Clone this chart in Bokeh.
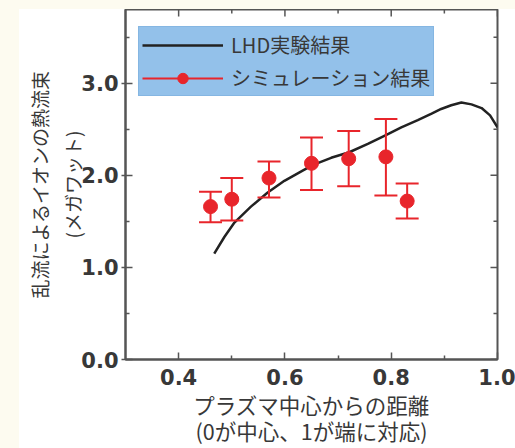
from bokeh.plotting import figure
from bokeh.models import (ColumnDataSource, FixedTicker, LinearAxis, Legend,
                          LegendItem, Range1d, Spacer)
from bokeh.layouts import row, column
from bokeh.embed import file_html
from bokeh.resources import INLINE

# ---------------- data ----------------
curve_x = [0.467, 0.486, 0.504, 0.536, 0.567, 0.599, 0.630, 0.652, 0.687, 0.721,
           0.756, 0.791, 0.819, 0.850, 0.876, 0.894, 0.913, 0.932, 0.951, 0.970,
           0.986, 1.0]
curve_y = [1.15, 1.33, 1.48, 1.66, 1.81, 1.94, 2.04, 2.11, 2.19, 2.25,
           2.34, 2.44, 2.52, 2.60, 2.67, 2.72, 2.76, 2.79, 2.77, 2.73,
           2.65, 2.52]

sim_x = [0.46, 0.50, 0.57, 0.65, 0.72, 0.79, 0.83]
sim_y = [1.66, 1.74, 1.97, 2.13, 2.18, 2.20, 1.72]
sim_upper = [1.82, 1.97, 2.15, 2.41, 2.48, 2.61, 1.91]
sim_lower = [1.49, 1.51, 1.76, 1.84, 1.88, 1.78, 1.53]

x_min, x_max = 0.3, 1.0
y_min, y_max = 0.0, 3.8
x_ticks = [0.4, 0.6, 0.8, 1.0]
x_tick_labels = ["0.4", "0.6", "0.8", "1.0"]
x_minor = [0.5, 0.7, 0.9]
y_ticks = [0.0, 1.0, 2.0, 3.0]
y_tick_labels = ["0.0", "1.0", "2.0", "3.0"]
y_minor = [0.5, 1.5, 2.5, 3.5]

line_label = "LHD実験結果"
sim_label = "シミュレーション結果"
x_title_1 = "プラズマ中心からの距離"
x_title_2 = "(0が中心、1が端に対応)"
y_title_1 = "乱流によるイオンの熱流束"
y_title_2 = "(メガワット)"

# ---------------- styles ----------------
RED = "#e8252b"
FRAME = "#555555"
TXT = "#383838"
CREAM = "#fdfbf0"
JP = "Noto Sans CJK JP"
NUM = "DejaVu Sans"
FRAME_W, FRAME_H = 372, 350
MAJ, MIN = 7, 4

p = figure(width=496, height=439, output_backend="svg", toolbar_location=None,
           x_range=Range1d(x_min, x_max), y_range=Range1d(y_min, y_max),
           min_border_left=106, min_border_right=18, min_border_top=0,
           min_border_bottom=89, x_axis_type=None, y_axis_type=None)
p.background_fill_color = "white"
p.border_fill_color = "white"
p.outline_line_color = FRAME
p.outline_line_width = 2
p.xgrid.visible = False
p.ygrid.visible = False

xt = FixedTicker(ticks=x_ticks, minor_ticks=x_minor)
yt = FixedTicker(ticks=y_ticks, minor_ticks=y_minor)

def style_axis(ax):
    ax.axis_line_color = FRAME
    ax.axis_line_width = 2
    ax.major_tick_line_color = FRAME
    ax.minor_tick_line_color = FRAME
    ax.major_tick_line_width = 1.5
    ax.minor_tick_line_width = 1.5
    ax.major_tick_in = MAJ
    ax.major_tick_out = 0
    ax.minor_tick_in = MIN
    ax.minor_tick_out = 0
    ax.major_label_text_font = NUM
    ax.major_label_text_font_style = "bold"
    ax.major_label_text_font_size = "21px"
    ax.major_label_text_color = TXT

def style_label(ax, size):
    ax.axis_label_text_font = JP
    ax.axis_label_text_font_size = size
    ax.axis_label_text_font_style = "normal"
    ax.axis_label_text_color = TXT

def label_only_axis(title, size, standoff):
    ax = LinearAxis(ticker=FixedTicker(ticks=[]), axis_line_color=None,
                    major_tick_line_color=None, minor_tick_line_color=None,
                    major_tick_out=0, major_tick_in=0, minor_tick_out=0,
                    minor_tick_in=0, major_label_standoff=0)
    ax.axis_label = title
    style_label(ax, size)
    ax.axis_label_standoff = standoff
    return ax

xb = LinearAxis(ticker=xt,
                major_label_overrides={t: s for t, s in zip(x_ticks, x_tick_labels)})
style_axis(xb)
xb.major_label_standoff = 9
xb.axis_label = x_title_1
style_label(xb, "21.5px")
xb.axis_label_standoff = 1
p.add_layout(xb, "below")
p.add_layout(label_only_axis(x_title_2, "21.5px", -8), "below")

yl = LinearAxis(ticker=yt,
                major_label_overrides={t: s for t, s in zip(y_ticks, y_tick_labels)})
style_axis(yl)
yl.major_tick_out = 4
yl.major_label_standoff = 3
yl.axis_label = y_title_2
style_label(yl, "19px")
yl.axis_label_standoff = -8
p.add_layout(yl, "left")
p.add_layout(label_only_axis(y_title_1, "19px", 4), "left")

# inward ticks on the top and right edges of the frame
xpx = (x_max - x_min) / FRAME_W
ypx = (y_max - y_min) / FRAME_H
tick_kw = dict(line_color=FRAME, line_width=1.5)
p.segment(x0=x_ticks, y0=[y_max] * len(x_ticks), x1=x_ticks,
          y1=[y_max - MAJ * ypx] * len(x_ticks), **tick_kw)
p.segment(x0=x_minor, y0=[y_max] * len(x_minor), x1=x_minor,
          y1=[y_max - MIN * ypx] * len(x_minor), **tick_kw)
p.segment(x0=[x_max] * len(y_ticks), y0=y_ticks,
          x1=[x_max - MAJ * xpx] * len(y_ticks), y1=y_ticks, **tick_kw)
p.segment(x0=[x_max] * len(y_minor), y0=y_minor,
          x1=[x_max - MIN * xpx] * len(y_minor), y1=y_minor, **tick_kw)

# ---------------- glyphs ----------------
curve_src = ColumnDataSource(dict(x=curve_x, y=curve_y))
line_r = p.line("x", "y", source=curve_src, line_color="#222222", line_width=2.5)

sim_src = ColumnDataSource(dict(x=sim_x, y=sim_y, up=sim_upper, lo=sim_lower))
seg_r = p.segment(x0="x", y0="lo", x1="x", y1="up", source=sim_src,
                  line_color=RED, line_width=2)
p.scatter("x", "up", source=sim_src, marker="dash", size=23,
          line_color=RED, line_width=2)
p.scatter("x", "lo", source=sim_src, marker="dash", size=23,
          line_color=RED, line_width=2)
dot_r = p.scatter("x", "y", source=sim_src, marker="circle", size=14,
                  fill_color=RED, line_color=RED)

legend = Legend(items=[LegendItem(label=line_label, renderers=[line_r]),
                       LegendItem(label=sim_label, renderers=[seg_r, dot_r])],
                location=(13, 263), margin=0, padding=3, spacing=4,
                label_height=26, glyph_height=26, glyph_width=81,
                label_standoff=8)
legend.background_fill_color = "#93c1ea"
legend.background_fill_alpha = 1.0
legend.border_line_color = "#78acd9"
legend.border_line_width = 1
legend.label_text_font = JP
legend.label_text_font_size = "20px"
legend.label_text_color = TXT
p.add_layout(legend)

top_band = Spacer(width=515, height=9, styles={"background-color": CREAM})
left_band = Spacer(width=19, height=439, styles={"background-color": CREAM})
layout = column(top_band, row(left_band, p, spacing=0), spacing=0)

open("out.html", "w").write(file_html(layout, INLINE))
